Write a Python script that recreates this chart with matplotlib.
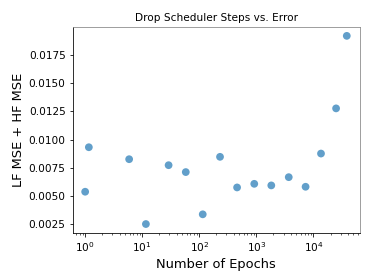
import numpy as np
import matplotlib.pyplot as plt

# epochs before the scheduler drop vs. combined error
epochs = [1, 1.16, 5.9, 11.6, 29, 58, 115, 231, 460, 920, 1830, 3700, 7300, 13600, 25000, 38500]
error = [0.00538, 0.00932, 0.00826, 0.00252, 0.00773, 0.00712, 0.00338, 0.00847,
         0.00576, 0.00608, 0.00594, 0.00667, 0.00582, 0.00876, 0.01276, 0.01918]

fig = plt.figure(figsize=(374/72, 280/72), dpi=72)
ax = fig.add_axes([0.194, 0.168, 0.769, 0.737])
ax.scatter(epochs, error, s=60, color='#1f77b4', alpha=0.7, edgecolors='none')
ax.set_xscale('log')
ax.set_xlim(10**-0.221, 10**4.82)
ax.set_ylim(0.00173, 0.0200)
ax.set_yticks([0.0025, 0.005, 0.0075, 0.01, 0.0125, 0.015, 0.0175])
ax.set_title('Drop Scheduler Steps vs. Error', fontsize=10.5)
ax.set_xlabel('Number of Epochs', fontsize=13)
ax.set_ylabel('LF MSE + HF MSE', fontsize=13)
ax.tick_params(labelsize=10.5)
for side in ['top', 'right']:
    ax.spines[side].set_color('#888888')

fig.savefig('out.png', dpi=72)
